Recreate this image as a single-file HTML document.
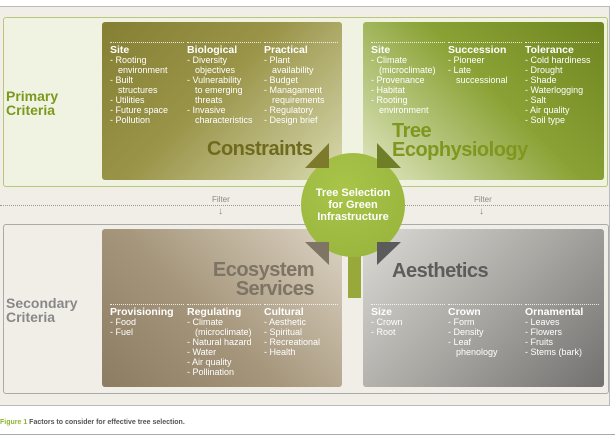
<!DOCTYPE html>
<html><head><meta charset="utf-8">
<style>
*{margin:0;padding:0;box-sizing:border-box}
body{width:615px;height:440px;background:#fff;position:relative;overflow:hidden;font-family:"Liberation Sans",sans-serif}
.a{position:absolute}
.col{position:absolute;width:74px;font-size:9px;line-height:10px;color:#fff}
.col h4{font-size:10.5px;line-height:12px;font-weight:bold;border-top:1.5px dotted rgba(255,255,255,.8);padding-top:1px;margin-bottom:-1px}
.col div{padding-left:8px;text-indent:-8px;white-space:nowrap}
.big{position:absolute;font-weight:bold;font-size:20px;line-height:19px;letter-spacing:-0.5px}
</style></head><body>
<div class="a" style="left:0;top:6px;width:610px;height:400px;background:#f1eee8;border-top:1px solid #bbb;border-right:1px solid #bbb;border-bottom:1px solid #bbb"></div>
<!-- primary -->
<div class="a" style="left:3px;top:17px;width:605px;height:170px;background:#f1f3e2;border:1px solid #b8c77a;border-radius:3px"></div>
<div class="a" style="left:102px;top:22px;width:240px;height:158px;border-radius:3px;background:linear-gradient(135deg,#857f33 0%,#9a9448 45%,#d8d9b0 100%)"></div>
<div class="a" style="left:363px;top:22px;width:241px;height:158px;border-radius:3px;background:linear-gradient(45deg,#e1e8c4 0%,#8aa235 55%,#6f8420 100%)"></div>
<div class="a" style="left:6px;top:89px;font-size:14px;line-height:14px;font-weight:bold;color:#7a9a1e">Primary<br>Criteria</div>

<div class="col" style="left:110px;top:42px"><h4>Site</h4><div>- Rooting<br>environment</div><div>- Built<br>structures</div><div>- Utilities</div><div>- Future space</div><div>- Pollution</div></div>
<div class="col" style="left:187px;top:42px"><h4>Biological</h4><div>- Diversity<br>objectives</div><div>- Vulnerability<br>to emerging<br>threats</div><div>- Invasive<br>characteristics</div></div>
<div class="col" style="left:264px;top:42px"><h4>Practical</h4><div>- Plant<br>availability</div><div>- Budget</div><div>- Managament<br>requirements</div><div>- Regulatory</div><div>- Design brief</div></div>
<div class="big" style="left:207px;top:140px;color:#6e6a1e">Constraints</div>

<div class="col" style="left:371px;top:42px"><h4>Site</h4><div>- Climate<br>(microclimate)</div><div>- Provenance</div><div>- Habitat</div><div>- Rooting<br>environment</div></div>
<div class="col" style="left:448px;top:42px"><h4>Succession</h4><div>- Pioneer</div><div>- Late<br>successional</div></div>
<div class="col" style="left:525px;top:42px"><h4>Tolerance</h4><div>- Cold hardiness</div><div>- Drought</div><div>- Shade</div><div>- Waterlogging</div><div>- Salt</div><div>- Air quality</div><div>- Soil type</div></div>
<div class="big" style="left:392px;top:122px;color:#7f961f">Tree<br>Ecophysiology</div>

<!-- filter -->
<div class="a" style="left:0;top:205px;width:610px;border-top:1px dotted #999"></div>
<div class="a" style="left:210px;top:195px;font-size:8px;color:#888;background:#f1eee8;padding:0 2px">Filter</div>
<div class="a" style="left:218px;top:206px;font-size:10px;color:#888">↓</div>
<div class="a" style="left:472px;top:195px;font-size:8px;color:#888;background:#f1eee8;padding:0 2px">Filter</div>
<div class="a" style="left:479px;top:206px;font-size:10px;color:#888">↓</div>

<!-- secondary -->
<div class="a" style="left:3px;top:224px;width:606px;height:170px;background:#f1eee8;border:1px solid #aaa;border-radius:3px"></div>
<div class="a" style="left:102px;top:229px;width:240px;height:158px;border-radius:3px;background:linear-gradient(45deg,#8c7c62 0%,#a6977c 45%,#ddd4c4 100%)"></div>
<div class="a" style="left:363px;top:229px;width:241px;height:158px;border-radius:3px;background:linear-gradient(135deg,#dcdad5 0%,#aaa8a3 50%,#727170 100%)"></div>
<div class="a" style="left:6px;top:296px;font-size:14px;line-height:14px;font-weight:bold;color:#888">Secondary<br>Criteria</div>
<div class="big" style="left:194px;top:261px;width:120px;text-align:right;color:#7e7464">Ecosystem<br>Services</div>
<div class="big" style="left:392px;top:262px;color:#5c5c5c">Aesthetics</div>

<div class="col" style="left:110px;top:304px"><h4>Provisioning</h4><div>- Food</div><div>- Fuel</div></div>
<div class="col" style="left:187px;top:304px"><h4>Regulating</h4><div>- Climate<br>(microclimate)</div><div>- Natural hazard</div><div>- Water</div><div>- Air quality</div><div>- Pollination</div></div>
<div class="col" style="left:264px;top:304px"><h4>Cultural</h4><div>- Aesthetic</div><div>- Spiritual</div><div>- Recreational</div><div>- Health</div></div>
<div class="col" style="left:371px;top:304px"><h4>Size</h4><div>- Crown</div><div>- Root</div></div>
<div class="col" style="left:448px;top:304px"><h4>Crown</h4><div>- Form</div><div>- Density</div><div>- Leaf<br>phenology</div></div>
<div class="col" style="left:525px;top:304px"><h4>Ornamental</h4><div>- Leaves</div><div>- Flowers</div><div>- Fruits</div><div>- Stems (bark)</div></div>

<!-- circle, stem, triangles -->
<div class="a" style="left:348px;top:240px;width:13px;height:58px;background:#98a83a"></div>
<div class="a" style="left:301px;top:153px;width:104px;height:104px;border-radius:50%;background:radial-gradient(circle at 40% 35%,#a9c449,#96b23a)"></div>
<div class="a" style="left:301px;top:187px;width:104px;text-align:center;color:#fff;font-weight:bold;font-size:11px;line-height:12px">Tree Selection<br>for Green<br>Infrastructure</div>
<svg class="a" style="left:0;top:0" width="615" height="440">
<polygon points="305,168 329,168 329,143" fill="#7d7a2c"/>
<polygon points="377,143 377,168 401,168" fill="#6e7f28"/>
<polygon points="305,242 329,242 329,265" fill="#7f7564"/>
<polygon points="377,242 401,242 377,265" fill="#5c5b5b"/>
</svg>

<div class="a" style="left:0;top:419px;font-size:7px;font-weight:bold;color:#555"><span style="color:#8fb532">Figure 1</span> Factors to consider for effective tree selection.</div>
<div class="a" style="left:0;top:434px;width:615px;border-top:1px solid #aaa"></div>
</body></html>
